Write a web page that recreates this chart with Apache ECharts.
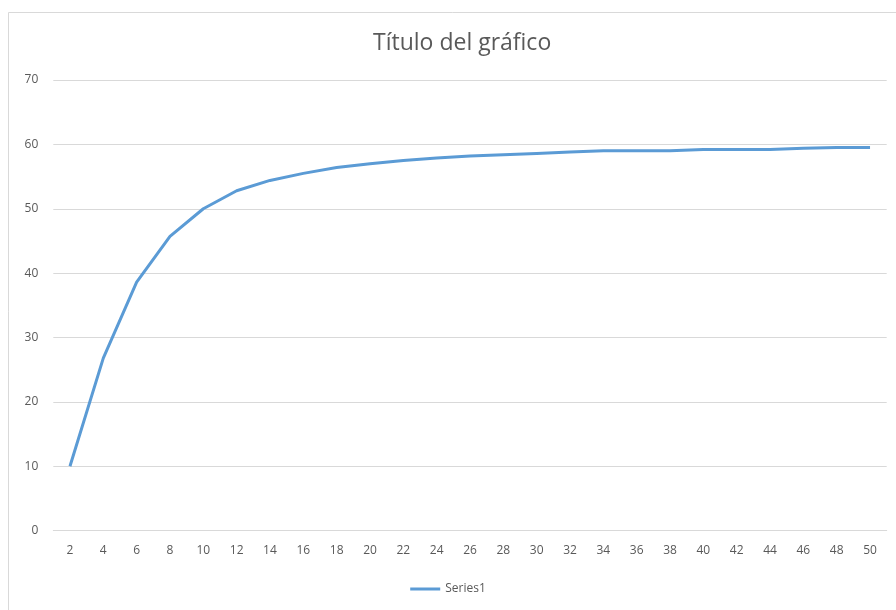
<!DOCTYPE html>
<html><head><meta charset="utf-8">
<script src="https://cdn.jsdelivr.net/npm/echarts@6/dist/echarts.min.js"></script>
<style>html,body{margin:0;padding:0;background:#fff}#c{width:896px;height:610px}</style>
</head><body><div id="c"></div>
<script>
const categories = ['2','4','6','8','10','12','14','16','18','20','22','24','26','28','30','32','34','36','38','40','42','44','46','48','50'];
const series1 = [10, 26.8, 38.6, 45.7, 50, 52.8, 54.4, 55.5, 56.4, 57.0, 57.5, 57.9, 58.2, 58.4, 58.6, 58.8, 59.0, 59.0, 59.0, 59.2, 59.2, 59.2, 59.4, 59.5, 59.5];
const yTicks = {min: 0, max: 70, interval: 10};

const chart = echarts.init(document.getElementById('c'));
chart.setOption({
  animation: false,
  backgroundColor: '#fff',
  graphic: [{type:'rect', shape:{x:8.5, y:12.5, width:1000, height:1000}, style:{fill:'none', stroke:'#d9d9d9', lineWidth:1}, silent:true}],
  title: {text: 'Título del gráfico', left: 368, top: 27,
    textStyle: {fontFamily: 'Open Sans', fontWeight: 'normal', fontSize: 23, color: '#595959'}},
  legend: {bottom: 10, left: 'center', itemWidth: 30, itemHeight: 3, itemGap: 6,
    icon: 'rect',
    textStyle: {fontFamily: 'Open Sans', fontSize: 12, color: '#595959'}},
  grid: {left: 53.3, right: 9.3, top: 80, bottom: 79.3, containLabel: false},
  xAxis: {type: 'category', data: categories, boundaryGap: true,
    axisLine: {lineStyle: {color: '#d9d9d9'}}, axisTick: {show: false},
    axisLabel: {color: '#595959', fontFamily: 'Open Sans', fontSize: 12, margin: 14, interval: 0}},
  yAxis: {type: 'value', min: yTicks.min, max: yTicks.max, interval: yTicks.interval,
    axisLine: {show: false}, axisTick: {show: false},
    splitLine: {lineStyle: {color: '#d9d9d9', width: 1}},
    axisLabel: {color: '#595959', fontFamily: 'Open Sans', fontSize: 12, margin: 15}},
  series: [{name: 'Series1', type: 'line', data: series1, showSymbol: false, symbol: 'none',
    lineStyle: {color: '#5B9BD5', width: 3}, itemStyle: {color: '#5B9BD5'}}]
});
</script></body></html>
